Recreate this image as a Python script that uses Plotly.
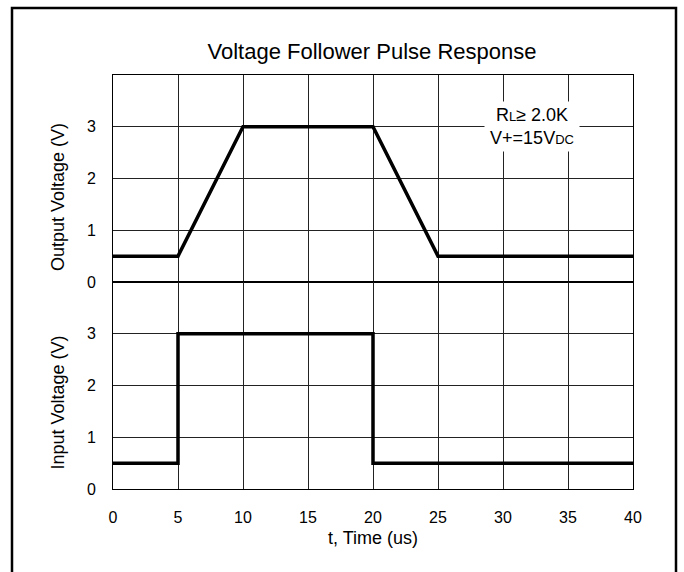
import plotly.graph_objects as go
from plotly.subplots import make_subplots

# ---- data ----
t_out = [0, 5, 10, 20, 25, 40]
v_out = [0.5, 0.5, 3, 3, 0.5, 0.5]
t_in = [0, 5, 5, 20, 20, 40]
v_in = [0.5, 0.5, 3, 3, 0.5, 0.5]
x_ticks = [0, 5, 10, 15, 20, 25, 30, 35, 40]
y_ticks = [0, 1, 2, 3]

title_text = "Voltage Follower Pulse Response"
x_title = "t, Time (us)"
y_top_title = "Output Voltage (V)"
y_bot_title = "Input Voltage (V)"
note_text = ("R<span style='font-size:13px'>L</span>\u2265 2.0K<br>"
             "V+=15V<span style='font-size:13px'>DC</span>")

FONT = "Liberation Sans, Arial, sans-serif"

fig = make_subplots(rows=2, cols=1, shared_xaxes=True, vertical_spacing=0)
fig.add_trace(go.Scatter(x=t_out, y=v_out, mode="lines",
                         line=dict(color="black", width=3.5),
                         showlegend=False, hoverinfo="skip"), row=1, col=1)
fig.add_trace(go.Scatter(x=t_in, y=v_in, mode="lines",
                         line=dict(color="black", width=3.5),
                         showlegend=False, hoverinfo="skip"), row=2, col=1)

axis_common = dict(showline=True, mirror=True, linecolor="black", linewidth=1,
                   showgrid=True, gridcolor="#222222", gridwidth=1,
                   zeroline=False, ticks="",
                   tickfont=dict(family=FONT, size=16, color="black"))

fig.update_xaxes(range=[0, 40], tickvals=x_ticks, **axis_common)
fig.update_xaxes(showticklabels=False, row=1, col=1)
fig.update_xaxes(ticklabelstandoff=14, row=2, col=1)
fig.update_yaxes(range=[0, 4], tickvals=y_ticks, ticklabelstandoff=13, **axis_common)

ann = [
    dict(text=x_title, xref="paper", yref="paper", x=0.5, y=(489 - 538) / 414,
         xanchor="center", yanchor="middle", showarrow=False,
         font=dict(family=FONT, size=18, color="black")),
    dict(text=y_top_title, xref="paper", yref="paper", x=(57.5 - 113) / 520,
         y=(489 - 197.5) / 414, textangle=-90, xanchor="center", yanchor="middle",
         showarrow=False, font=dict(family=FONT, size=18, color="black")),
    dict(text=y_bot_title, xref="paper", yref="paper", x=(57.5 - 113) / 520,
         y=(489 - 403) / 414, textangle=-90, xanchor="center", yanchor="middle",
         showarrow=False, font=dict(family=FONT, size=18, color="black")),
    dict(text=note_text, xref="x", yref="y", x=32.2, y=3.0,
         xanchor="center", yanchor="middle", showarrow=False,
         bgcolor="white", borderpad=3, width=88, height=43, align="center",
         font=dict(family=FONT, size=18, color="black")),
]

shapes = [
    dict(type="rect", xref="paper", yref="paper",
         x0=(12 - 113) / 520, x1=(676 - 113) / 520,
         y0=(489 - 600) / 414, y1=(489 - 8) / 414,
         line=dict(color="black", width=2.5), fillcolor="rgba(0,0,0,0)", layer="above"),
]

fig.update_layout(
    width=684, height=572,
    margin=dict(l=113, r=51, t=75, b=83),
    paper_bgcolor="white", plot_bgcolor="white",
    title=dict(text=title_text, x=372 / 684, xanchor="center",
               y=1 - 51 / 572, yanchor="middle",
               font=dict(family=FONT, size=22, color="black")),
    annotations=ann, shapes=shapes,
)

fig.write_html("out.html", config={"displayModeBar": False},
               post_script="document.body.style.margin='0px';"
                           "document.body.style.overflow='hidden';")
